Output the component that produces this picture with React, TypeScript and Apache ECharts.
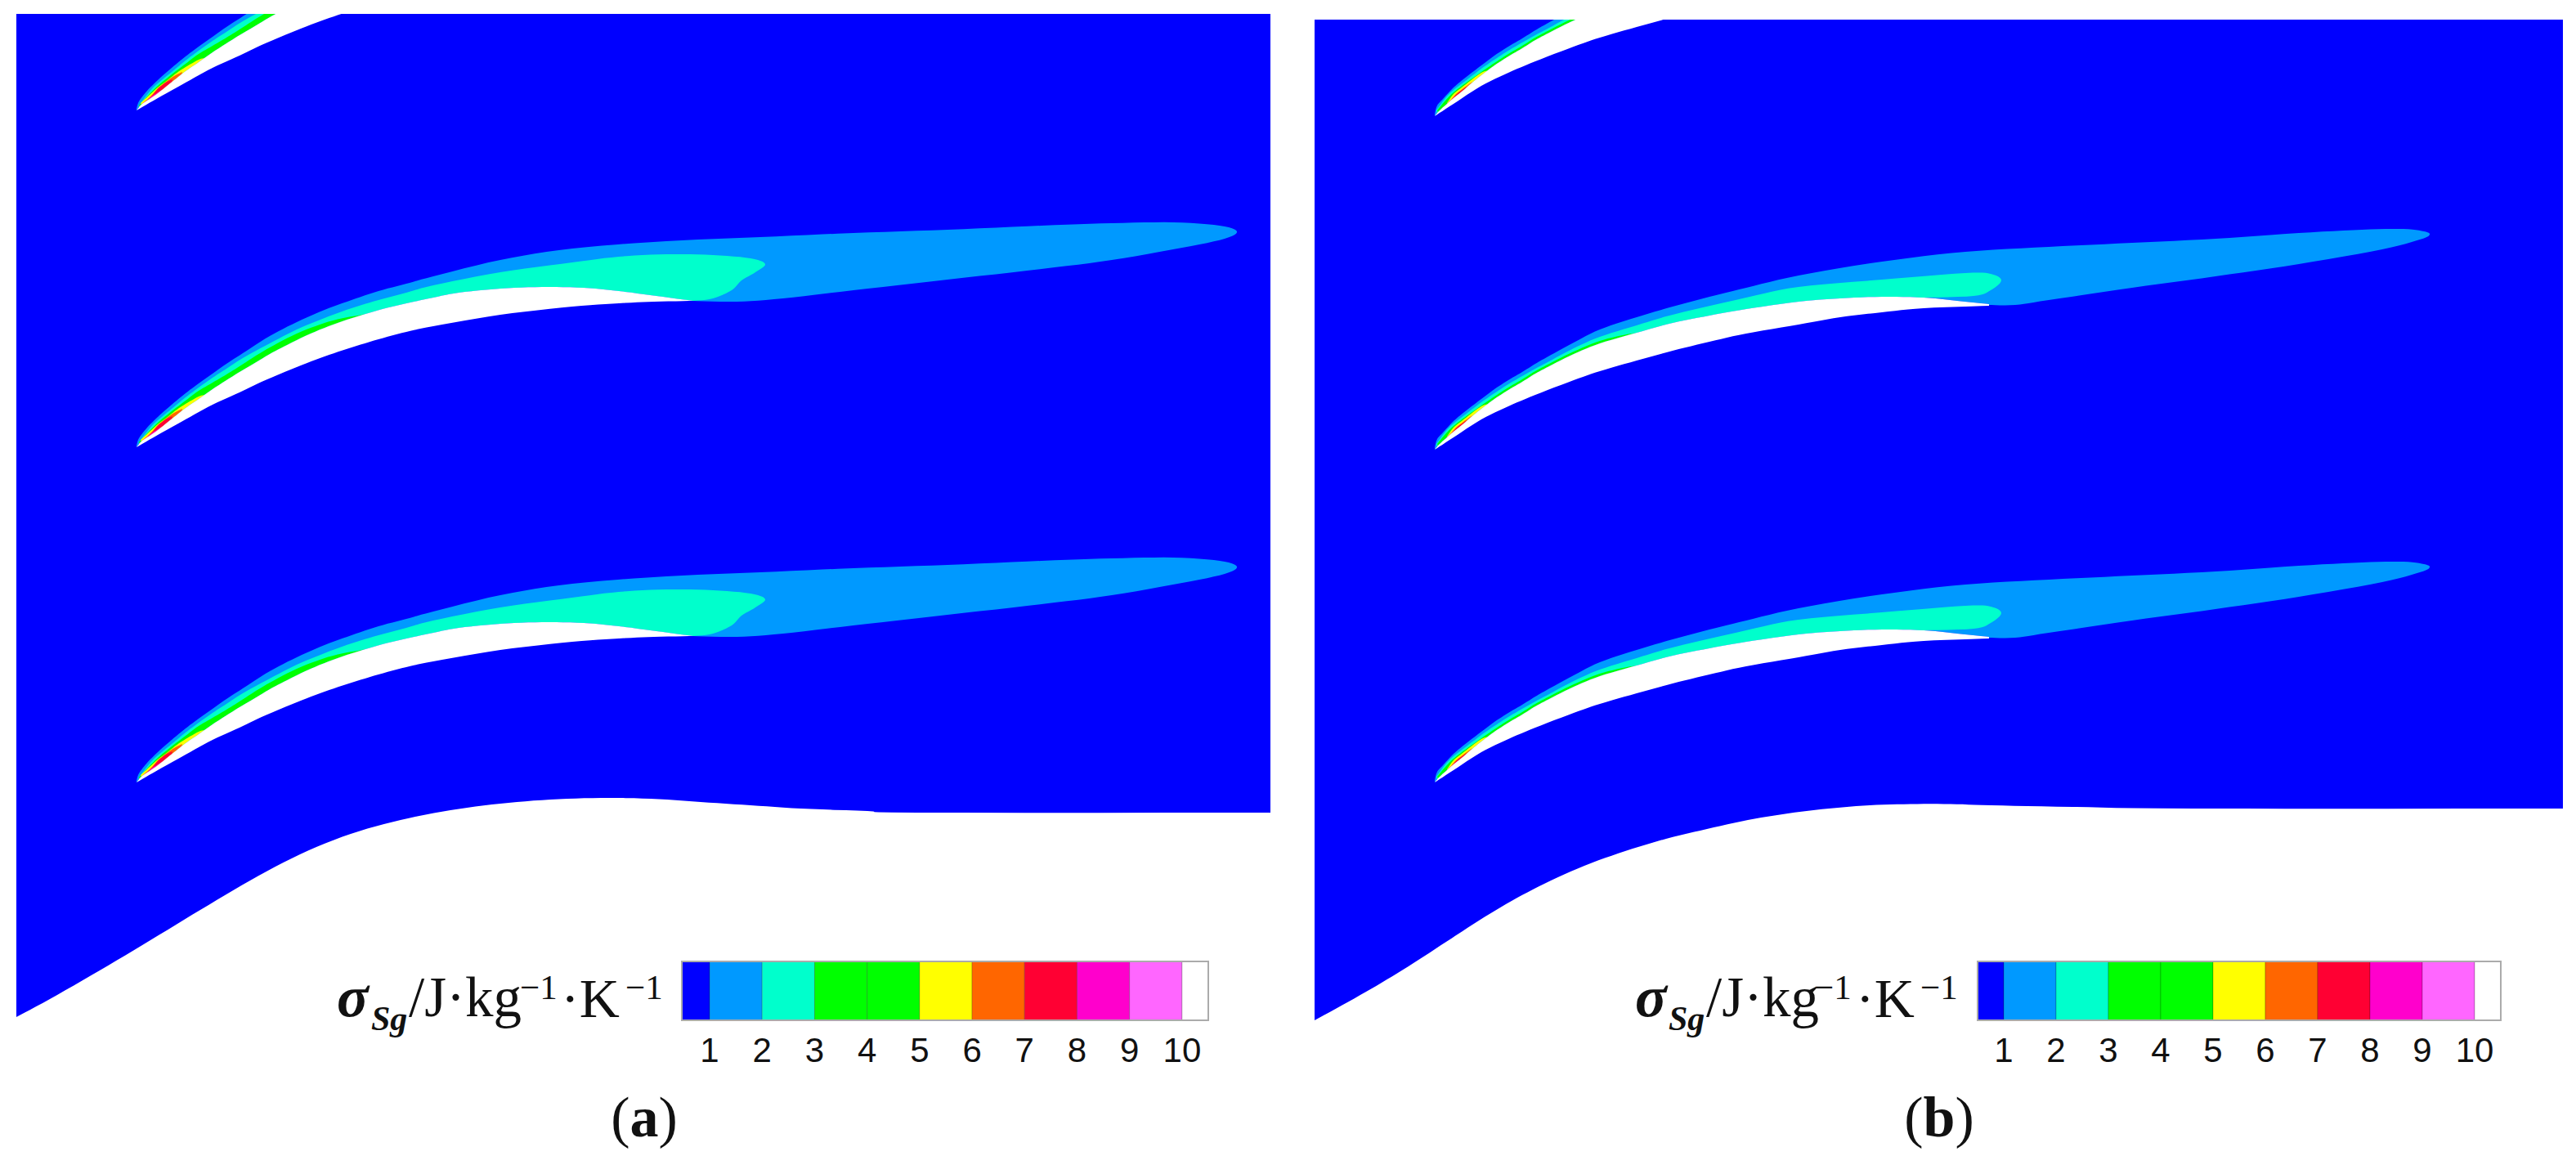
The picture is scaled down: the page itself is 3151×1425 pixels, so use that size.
import React, { useEffect, useRef } from "react";
import * as echarts from "echarts";

type Pt = number[];

// Level bands of the contour plot, lowest (background) to highest (blade / over-range)
const levelColors = ["#0000ff", "#0099ff", "#00ffcc", "#00ff00", "#00ff00", "#ffff00", "#ff6600", "#ff0033", "#ff00cc", "#ff66ff", "#ffffff"];
const legendTicks = [1, 2, 3, 4, 5, 6, 7, 8, 9, 10];

// ---------- Panel (a): outlines ----------
const hubA: Pt[] = [[20,1244],[61,1222],[122,1187],[184,1150],[245,1113],[306,1077],[367,1045],[429,1020],[490,1003],[551,991],[612,983],[673,978],[735,976],[796,977],[857,981],[918,985],[980,989],[1061,992],[1122,994],[1554,994]];
const suctionA: Pt[] = [[167,547],[173,540],[183,533],[193,526],[213,510],[227,499],[243,488],[260,476],[277,465],[293,455],[315,442],[330,433],[347,424],[380,408],[413,395],[447,384],[480,375],[530,364],[561,358],[612,353],[663,351],[714,352],[757,356],[803,362],[848,368]];
const pressureA: Pt[] = [[167,547],[193,532],[227,513],[260,495],[293,480],[320,467],[363,449],[397,436],[430,425],[463,415],[497,406],[530,399],[612,385],[700,375],[757,371],[800,369],[848,368]];
const level1A: Pt[] = [[167,545],[170,536],[180,523],[193,510],[210,495],[227,481],[243,469],[260,457],[277,445],[297,432],[330,411],[363,394],[397,379],[430,367],[463,356],[497,347],[530,338],[612,318],[700,304],[815,295],[930,290],[1044,285],[1159,281],[1274,276],[1360,273],[1435,272],[1492,276],[1513,283],[1498,292],[1446,303],[1360,318],[1274,329],[1159,342],[1044,355],[958,365],[901,369],[848,368]];
const level2A: Pt[] = [[170,541],[183,524],[193,514],[210,500],[227,486],[243,474],[260,462],[277,451],[297,438],[330,420],[363,403],[397,389],[430,377],[463,367],[497,358],[530,349],[612,333],[700,321],[757,314],[815,311],[872,312],[918,316],[936,323],[924,333],[907,343],[895,355],[872,365],[848,368]];
const level3A: Pt[] = [[170,541],[180,530],[193,517],[210,503],[227,490],[243,478],[260,468],[277,458],[293,448],[310,437],[330,425],[363,408],[397,395],[420,389],[440,385.5],[447,384]];
const level5A: Pt[] = [[172,538],[183,528],[193,519],[205,510],[215,502],[227,494],[243,485],[250,483]];
const level6A: Pt[] = [[174,539],[185,529],[193,520],[203,512],[213,505],[223,500]];
const level7A: Pt[] = [[175,540],[185,530],[193,521],[203,513],[211,509]];
const level8A: Pt[] = [[174,542],[183,532],[193,525],[198,522]];
const level9A: Pt[] = [[170,545],[178,537],[186,531]];
const pitchA = [-412, 0, 410];

// ---------- Panel (b) ----------
const hubB: Pt[] = [[1608,1248],[1650,1225],[1690,1202],[1729,1178],[1769,1152],[1809,1126],[1849,1102],[1889,1081],[1938,1059],[1988,1041],[2038,1026],[2088,1014],[2138,1003],[2187,995],[2237,989],[2287,985],[2337,983.5],[2386,983.5],[2436,985],[2536,987],[2685,989],[3135,989]];
const suctionB: Pt[] = [[1755,550],[1760,544],[1770,535],[1778,528],[1788,520],[1802,508],[1812,500],[1828,488],[1845,477],[1862,467],[1878,457],[1895,448],[1925,433],[1957,420],[2002,407],[2046,395],[2091,386],[2136,378],[2200,369],[2251,365],[2302,363],[2353,364],[2394,368],[2433,372]];
const pressureB: Pt[] = [[1755,550],[1778,535],[1812,513],[1845,497],[1878,483],[1925,465],[1957,454],[2002,441],[2046,429],[2091,418],[2136,408],[2200,397],[2251,388],[2302,382],[2353,377],[2433,374]];
const level1B: Pt[] = [[1755,547],[1758,537],[1765,529],[1778,515],[1795,501],[1812,488],[1828,476],[1845,465],[1862,455],[1878,445],[1892,437],[1925,419],[1957,403],[2002,388],[2046,375],[2091,363],[2136,352],[2200,337],[2302,320],[2404,308],[2506,302],[2608,297],[2710,292],[2812,285],[2889,281],[2940,280],[2965,283],[2972,287],[2960,293],[2914,305],[2812,323],[2710,338],[2608,352],[2506,367],[2465,373],[2433,373]];
const level2B: Pt[] = [[1757,543],[1768,528],[1778,518],[1795,505],[1812,492],[1828,481],[1845,470],[1862,460],[1878,451],[1895,442],[1925,426],[1957,412],[2002,398],[2046,385],[2136,364],[2200,351],[2302,342],[2404,334],[2435,335],[2448,343],[2435,355],[2414,362],[2353,364]];
const level3B: Pt[] = [[1758,543],[1768,531],[1778,521],[1795,508],[1812,496],[1828,485],[1845,474],[1862,464],[1878,454],[1895,445],[1925,430],[1957,417],[1985,410],[2002,407]];
const level5B: Pt[] = [[1770,534],[1778,523],[1788,515],[1802,504],[1812,497],[1820,494]];
const level6B: Pt[] = [[1772,534],[1780,524],[1790,516],[1798,510],[1802,508]];
const level7B: Pt[] = [[1772,535],[1780,525],[1790,517],[1795,514]];
const level8B: Pt[] = [[1768,539],[1775,531],[1782,526]];
const level9B: Pt[] = [[1762,544],[1770,535],[1776,530]];
const pitchB = [-408, 0, 407];

// Catmull-Rom rendering of an outline so it is not faceted
function curve(p: Pt[]): Pt[] {
  const out: Pt[] = [];
  for (let i = 0; i < p.length - 1; i++) {
    const a = p[Math.max(i - 1, 0)], b = p[i], c = p[i + 1], d = p[Math.min(i + 2, p.length - 1)];
    for (let k = 0; k < 6; k++) {
      const t = k / 6, t2 = t * t, t3 = t2 * t;
      out.push([0, 1].map((j) => 0.5 * (2 * b[j] + (c[j] - a[j]) * t + (2 * a[j] - 5 * b[j] + 4 * c[j] - d[j]) * t2 + (3 * b[j] - a[j] - 3 * c[j] + d[j]) * t3)));
    }
  }
  out.push(p[p.length - 1]);
  return out;
}

interface Layer { points: Pt[]; fill: string }

function panelLayers(
  box: { x0: number; x1: number; y0: number },
  hub: Pt[], suction: Pt[], pressure: Pt[], levels: [Pt[], number][], pitch: number[]
): Layer[] {
  const layers: Layer[] = [
    { points: [[box.x0, box.y0], [box.x1, box.y0], ...curve(hub).reverse()], fill: levelColors[0] },
  ];
  for (const dy of pitch) {
    const shift = (pts: Pt[]) => pts.map(([x, y]) => [x, y + dy]);
    for (const [top, lv] of levels) {
      const first = top[0][0], last = top[top.length - 1][0];
      const back = curve(suction).filter((q) => q[0] >= first && q[0] <= last).reverse();
      layers.push({ points: shift([...curve(top), ...back]), fill: levelColors[lv] });
    }
    layers.push({ points: shift([...curve(suction), ...curve(pressure).reverse()]), fill: levelColors[10] });
  }
  return layers;
}

const layersA = panelLayers({ x0: 20, x1: 1554, y0: 17 }, hubA, suctionA, pressureA,
  [[level1A, 1], [level2A, 2], [level3A, 3], [level5A, 5], [level6A, 6], [level7A, 7], [level8A, 8], [level9A, 9]], pitchA);
const layersB = panelLayers({ x0: 1608, x1: 3135, y0: 24 }, hubB, suctionB, pressureB,
  [[level1B, 1], [level2B, 2], [level3B, 3], [level5B, 5], [level6B, 6], [level7B, 7], [level8B, 8], [level9B, 9]], pitchB);

function contourSeries(layers: Layer[], axisIndex: number) {
  return {
    type: "custom", xAxisIndex: axisIndex, yAxisIndex: axisIndex, clip: true, silent: true,
    data: layers.map((_, i) => [i]),
    renderItem: (params: any, api: any) => {
      const l = layers[params.dataIndex];
      return { type: "polygon", shape: { points: l.points.map((p) => api.coord(p)) }, style: { fill: l.fill } };
    },
  };
}

function legendSeries(min: number, max: number, axisIndex: number) {
  const edges = [min, ...legendTicks, max];
  const n = edges.length - 1;
  return {
    type: "custom", xAxisIndex: axisIndex, yAxisIndex: axisIndex, silent: true,
    data: Array.from({ length: n + 1 }, (_, i) => [i]),
    renderItem: (params: any, api: any) => {
      const i = params.dataIndex;
      const outer = i === n;
      const a = api.coord([outer ? min : edges[i], 1]);
      const b = api.coord([outer ? max : edges[i + 1], 0]);
      return {
        type: "rect",
        shape: { x: a[0], y: a[1], width: b[0] - a[0], height: b[1] - a[1] },
        style: outer
          ? { fill: "none", stroke: "#ababab", lineWidth: 2 }
          : { fill: levelColors[i], stroke: "rgba(0,0,0,0.22)", lineWidth: 1 },
      };
    },
  };
}

const SERIF = "Liberation Serif";

function txt(x: number, base: number, text: string, size: number, bold = false, fill = "#111") {
  return {
    type: "text", x, y: base - size * 0.33, silent: true,
    style: {
      text, fill, fontFamily: SERIF, fontSize: size,
      fontStyle: bold ? "italic" : "normal", fontWeight: bold ? "bold" : "normal",
      align: "left", verticalAlign: "middle",
    },
  };
}

function legendTitle(xs: number[]) {
  return [
    txt(xs[0], 1243, "σ", 72, true),
    txt(xs[1], 1260, "Sg", 42, true),
    txt(xs[2], 1243, "/J·kg", 69),
    txt(xs[3], 1222, "−1", 43),
    txt(xs[4], 1243, "·K", 68),
    txt(xs[5], 1222, "−1", 43),
  ];
}

function panelTag(cx: number, letter: string) {
  return {
    type: "text", x: cx, y: 1366, silent: true,
    style: {
      text: `{p|(}{b|${letter}}{p|)}`, align: "center", verticalAlign: "middle",
      rich: {
        p: { fontFamily: SERIF, fontSize: 70, fill: "#111" },
        b: { fontFamily: SERIF, fontSize: 70, fontWeight: "bold", fill: "#111" },
      },
    },
  };
}

const hiddenAxis = (min: number, max: number, inverse = false) => ({
  type: "value", min, max, inverse, show: false, scale: true,
});

const legendAxis = (min: number, max: number) => ({
  type: "value", min, max, position: "bottom",
  axisLine: { show: false }, axisTick: { show: false }, splitLine: { show: false },
  axisLabel: {
    show: true, customValues: legendTicks, margin: 15,
    fontFamily: "Liberation Sans", fontSize: 42, color: "#111",
  },
});

export default function App() {
  const ref = useRef<HTMLDivElement>(null);
  useEffect(() => {
    document.body.style.margin = "0";
    const chart = echarts.init(ref.current!, undefined, { renderer: "svg" });
    chart.setOption({
      animation: false,
      backgroundColor: "#ffffff",
      grid: [
        { left: 20, top: 17, width: 1534, height: 1227 },
        { left: 1608, top: 24, width: 1527, height: 1224 },
        { left: 834, top: 1176, width: 644, height: 72 },
        { left: 2419, top: 1176, width: 640, height: 72 },
      ],
      xAxis: [
        { ...hiddenAxis(20, 1554), gridIndex: 0 },
        { ...hiddenAxis(1608, 3135), gridIndex: 1 },
        { ...legendAxis(0.47, 10.5), gridIndex: 2 },
        { ...legendAxis(0.5, 10.5), gridIndex: 3 },
      ],
      yAxis: [
        { ...hiddenAxis(17, 1244, true), gridIndex: 0 },
        { ...hiddenAxis(24, 1248, true), gridIndex: 1 },
        { ...hiddenAxis(0, 1), gridIndex: 2 },
        { ...hiddenAxis(0, 1), gridIndex: 3 },
      ],
      series: [
        contourSeries(layersA, 0),
        contourSeries(layersB, 1),
        legendSeries(0.47, 10.5, 2),
        legendSeries(0.5, 10.5, 3),
      ],
      graphic: {
        elements: [
          ...legendTitle([412, 454, 500, 636, 686, 765]),
          ...legendTitle([2000, 2041, 2087, 2219, 2270, 2349]),
          panelTag(788, "a"),
          panelTag(2372, "b"),
        ],
      },
    });
    return () => chart.dispose();
  }, []);
  return <div ref={ref} style={{ width: 3151, height: 1425 }} />;
}
